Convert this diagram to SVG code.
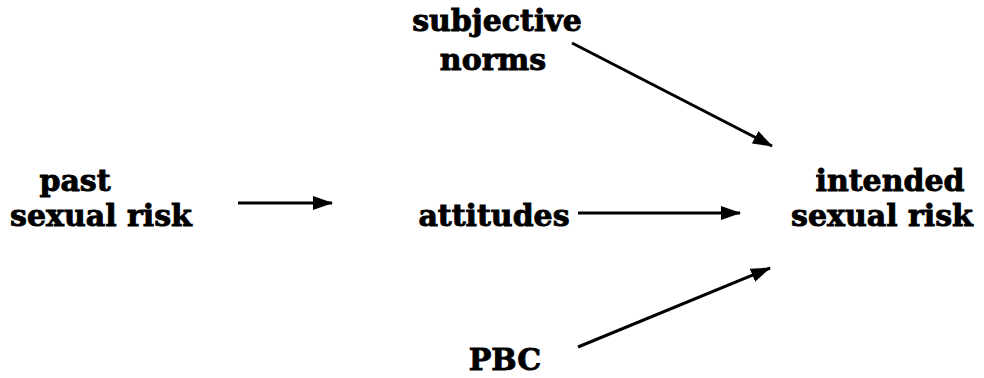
<svg xmlns="http://www.w3.org/2000/svg" width="984" height="378" viewBox="0 0 984 378">
<style>
text{font-family:"DejaVu Serif","Liberation Serif",serif;font-weight:bold;font-size:30px;fill:#000;stroke:#000;stroke-width:0.9;text-anchor:middle}
.c line{stroke:#000;stroke-width:3;fill:none}
</style>
<defs>
<marker id="ah" markerWidth="20" markerHeight="16" refX="19" refY="8" orient="auto" markerUnits="userSpaceOnUse">
<path d="M0,1 L20,8 L0,15 Z" fill="#000"/>
</marker>
</defs>
<rect width="984" height="378" fill="#fff"/>
<g id="past"><text x="75" y="191">past</text><text x="101" y="226">sexual risk</text></g>
<g id="subjective"><text x="497" y="31">subjective</text><text x="493" y="70">norms</text></g>
<g id="attitudes"><text x="494" y="226">attitudes</text></g>
<g id="intended"><text x="890" y="191">intended</text><text x="882" y="226">sexual risk</text></g>
<g id="pbc"><text x="505" y="370">PBC</text></g>
<g class="c" id="connectors">
<line x1="238" y1="203" x2="332" y2="203" marker-end="url(#ah)"/>
<line x1="578" y1="213" x2="740" y2="213" marker-end="url(#ah)"/>
<line x1="572" y1="43" x2="772" y2="146" marker-end="url(#ah)"/>
<line x1="578" y1="347" x2="770" y2="268" marker-end="url(#ah)"/>
</g>
</svg>
